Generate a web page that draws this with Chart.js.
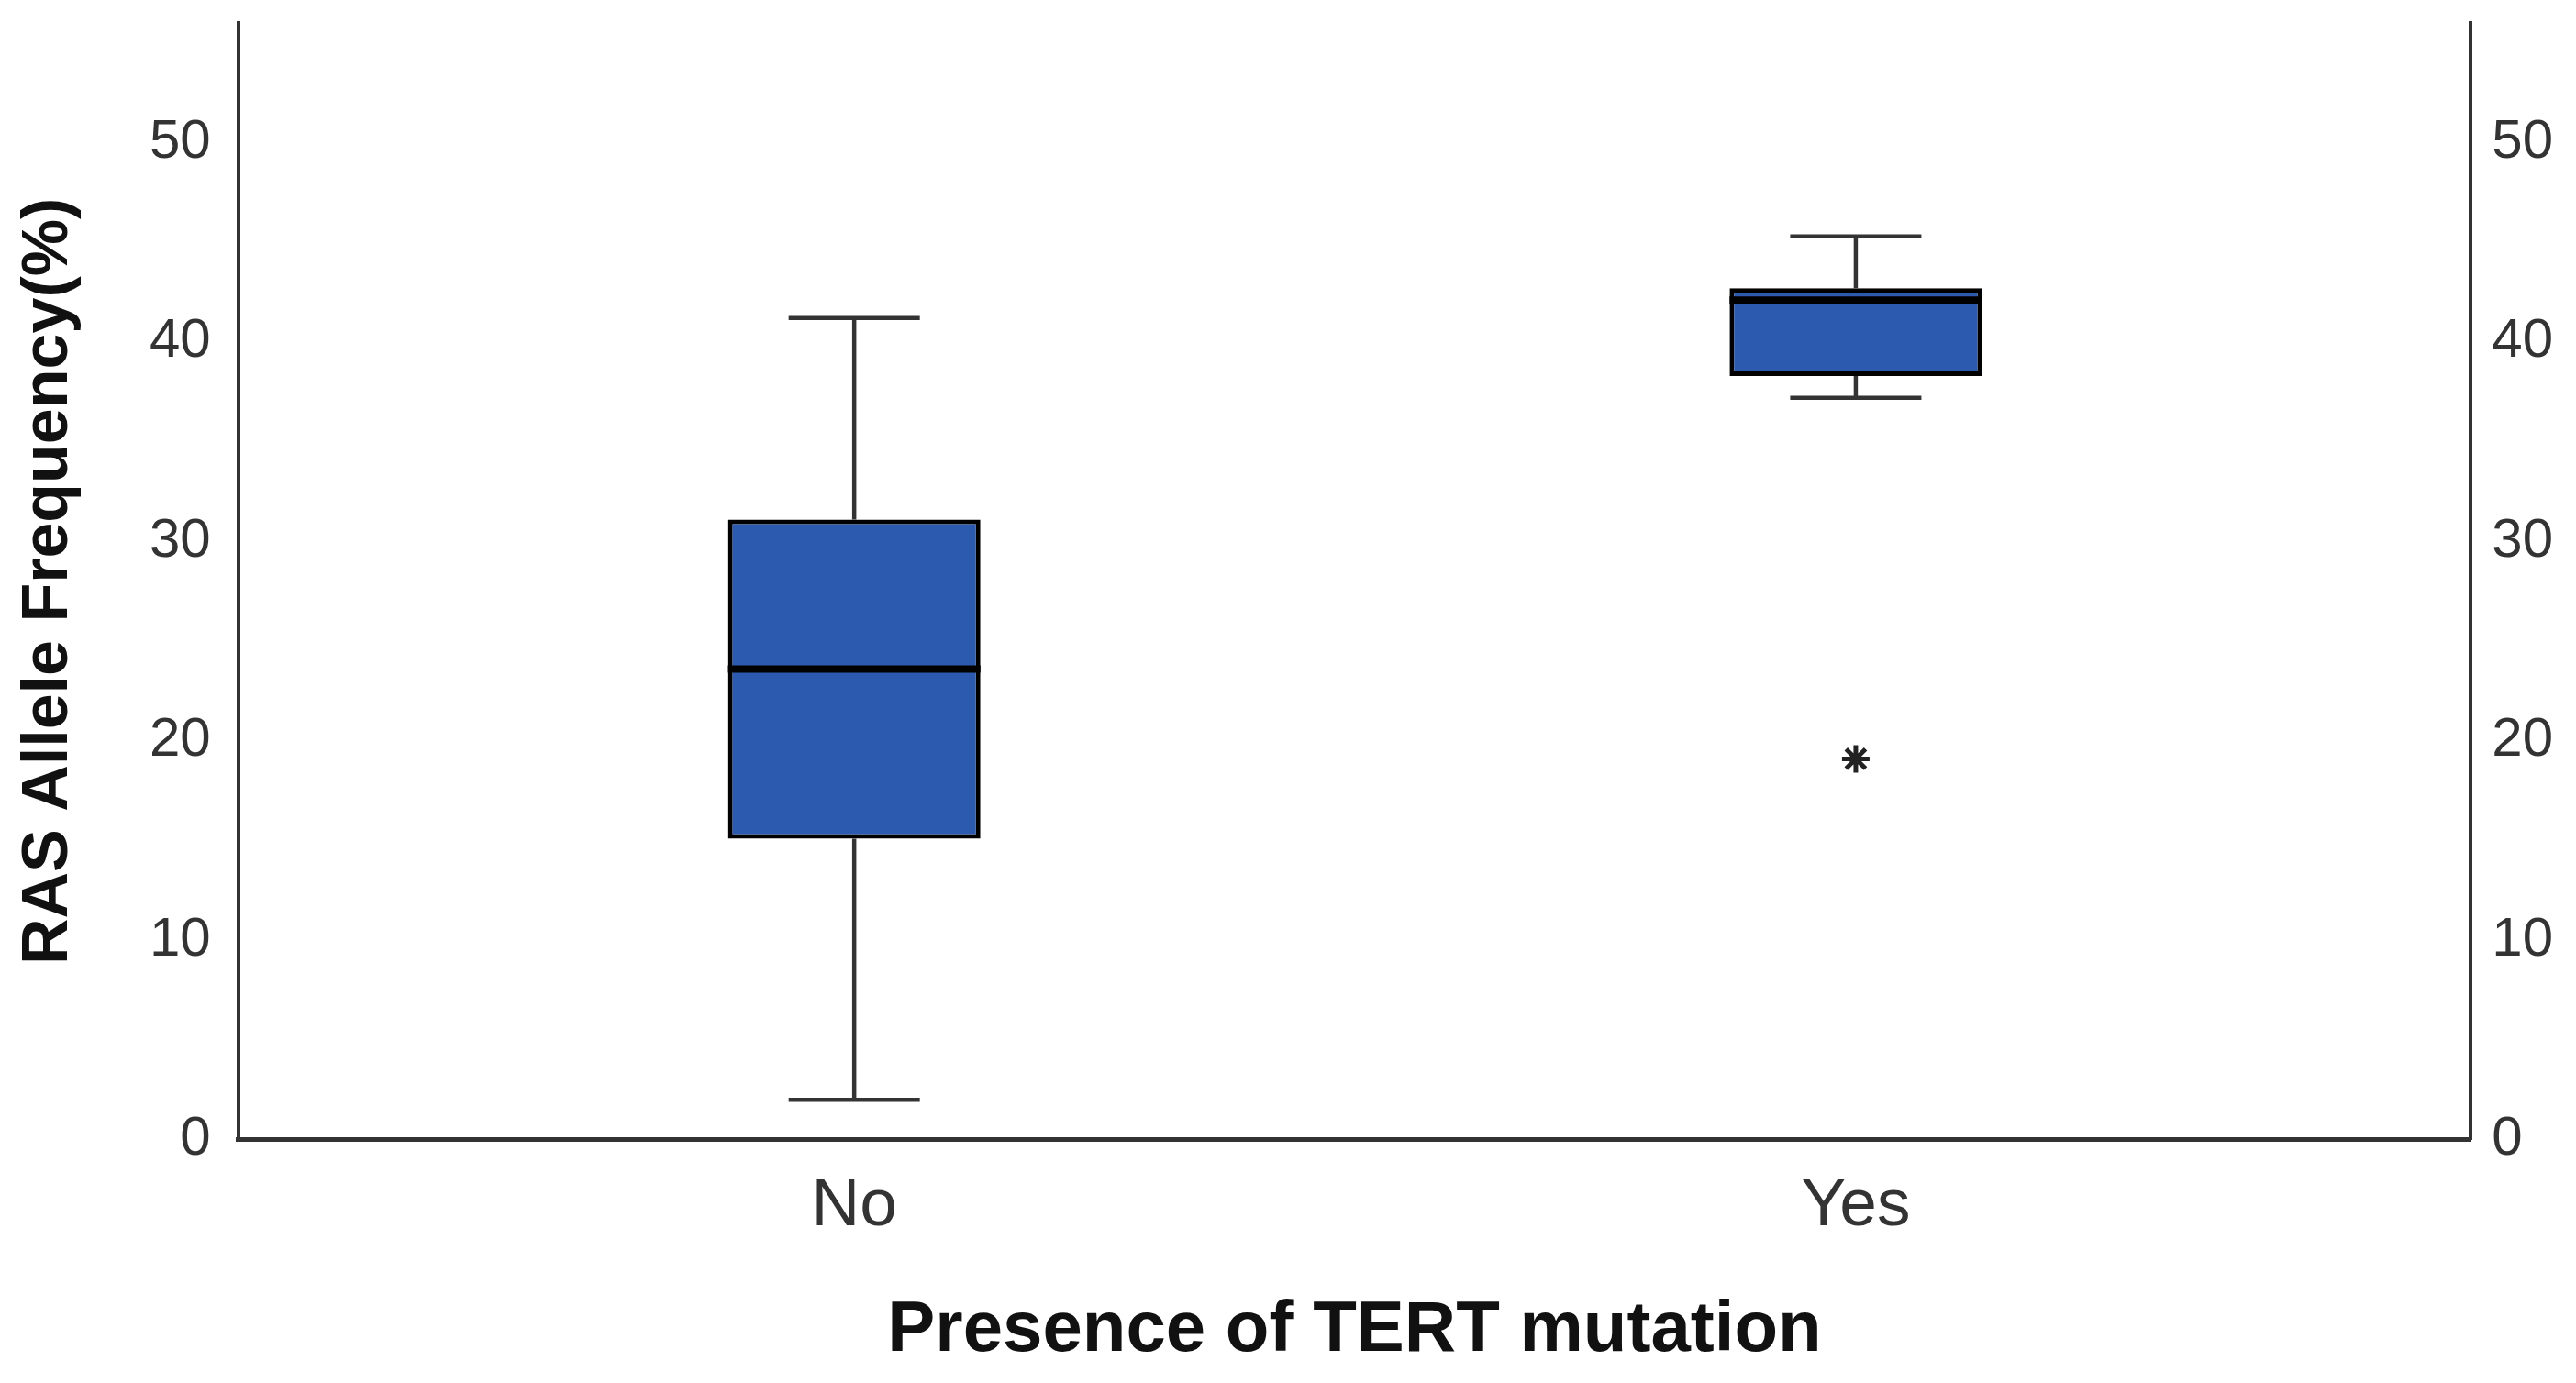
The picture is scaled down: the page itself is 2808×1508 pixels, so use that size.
<!DOCTYPE html>
<html>
<head>
<meta charset="utf-8">
<script src="https://cdn.jsdelivr.net/npm/chart.js@4.4.1/dist/chart.umd.min.js"></script>
<style>
  html, body { margin: 0; padding: 0; background: #fff; }
  #wrap { width: 2808px; height: 1508px; position: relative; }
</style>
</head>
<body>
<div id="wrap"><canvas id="boxChart"></canvas></div>
<script>
// values
const categories = ['No', 'Yes'];
const whiskerLow = [2.0, 37.2];
const quartile1 = [15.1, 38.3];
const medians = [23.6, 42.1];
const quartile3 = [31.1, 42.7];
const whiskerHigh = [41.2, 45.3];
const outliers = [[], [19.1]];
const yTicks = [0, 10, 20, 30, 40, 50];

// box geometry in x units (one unit = distance between the two groups)
const BOX_W = 0.252;
const CAP_W = 0.131;

document.addEventListener("DOMContentLoaded", function() {
    const boxes = categories.map((c, i) => ({ x: i, y: [quartile1[i], quartile3[i]] }));

    const whiskers = [];
    const caps = [];
    const medianLines = [];
    const outlierPts = [];
    categories.forEach((c, i) => {
        whiskers.push({ x: i, y: quartile3[i] }, { x: i, y: whiskerHigh[i] }, { x: i, y: null });
        whiskers.push({ x: i, y: whiskerLow[i] }, { x: i, y: quartile1[i] }, { x: i, y: null });
        caps.push({ x: i - CAP_W / 2, y: whiskerHigh[i] }, { x: i + CAP_W / 2, y: whiskerHigh[i] }, { x: i, y: null });
        caps.push({ x: i - CAP_W / 2, y: whiskerLow[i] }, { x: i + CAP_W / 2, y: whiskerLow[i] }, { x: i, y: null });
        medianLines.push({ x: i - BOX_W / 2, y: medians[i] }, { x: i + BOX_W / 2, y: medians[i] }, { x: i, y: null });
        outliers[i].forEach(v => outlierPts.push({ x: i, y: v }));
    });

    const tickFont = { family: "'Liberation Sans', Arial, sans-serif", size: 60 };
    const yAxisCommon = {
        type: 'linear',
        min: 0,
        max: 56,
        grid: { display: false, drawTicks: false },
        border: { display: true, color: '#333', width: 4 },
        afterBuildTicks: function(scale) {
            scale.ticks = yTicks.map(v => ({ value: v }));
        },
        afterFit: function(scale) {
            scale.paddingTop = 0;
            scale.paddingBottom = 0;
        }
    };

    const ctx = document.getElementById('boxChart').getContext('2d');
    new Chart(ctx, {
        type: 'bar',
        data: {
            datasets: [
                {
                    type: 'line',
                    data: outlierPts,
                    showLine: false,
                    pointStyle: 'star',
                    pointRadius: 15,
                    pointBorderWidth: 5,
                    pointBorderColor: '#222',
                    pointBackgroundColor: '#222',
                    order: 0
                },
                {
                    type: 'line',
                    data: medianLines,
                    borderColor: '#000',
                    borderWidth: 8,
                    pointRadius: 0,
                    fill: false,
                    order: 1
                },
                {
                    type: 'line',
                    data: caps,
                    borderColor: '#333',
                    borderWidth: 4.5,
                    pointRadius: 0,
                    fill: false,
                    order: 2
                },
                {
                    type: 'line',
                    data: whiskers,
                    borderColor: '#333',
                    borderWidth: 4.5,
                    pointRadius: 0,
                    fill: false,
                    order: 3
                },
                {
                    type: 'bar',
                    data: boxes,
                    backgroundColor: '#2C5AAE',
                    borderColor: '#000',
                    borderWidth: 5,
                    borderSkipped: false,
                    barPercentage: BOX_W,
                    categoryPercentage: 1,
                    order: 4
                }
            ]
        },
        options: {
            responsive: true,
            maintainAspectRatio: false,
            devicePixelRatio: 1,
            animation: false,
            layout: {
                padding: { left: 12, right: 2, top: 25, bottom: 0 }
            },
            plugins: {
                legend: { display: false },
                tooltip: { enabled: false }
            },
            scales: {
                x: {
                    type: 'linear',
                    position: 'bottom',
                    offset: false,
                    min: -0.615,
                    max: 1.614,
                    grid: { display: false, drawTicks: false, offset: false },
                    border: { display: true, color: '#333', width: 5 },
                    afterBuildTicks: function(scale) {
                        scale.ticks = categories.map((c, i) => ({ value: i }));
                    },
                    ticks: {
                        padding: 29,
                        color: '#333',
                        font: { family: "'Liberation Sans', Arial, sans-serif", size: 73 },
                        callback: function(value) { return categories[value]; }
                    },
                    title: {
                        display: true,
                        text: 'Presence of TERT mutation',
                        color: '#111',
                        font: { family: "'Liberation Sans', Arial, sans-serif", size: 78, weight: 'bold' },
                        padding: { top: 16, bottom: 10 }
                    }
                },
                y: Object.assign({}, yAxisCommon, {
                    position: 'left',
                    ticks: { padding: 30, color: '#333', font: tickFont },
                    title: {
                        display: true,
                        text: 'RAS Allele Frequency(%)',
                        color: '#111',
                        font: { family: "'Liberation Sans', Arial, sans-serif", size: 70, weight: 'bold' },
                        padding: { top: 0, bottom: 37 }
                    }
                }),
                y2: Object.assign({}, yAxisCommon, {
                    position: 'right',
                    ticks: { padding: 23, color: '#333', font: tickFont }
                })
            }
        }
    });
});
</script>
</body>
</html>
